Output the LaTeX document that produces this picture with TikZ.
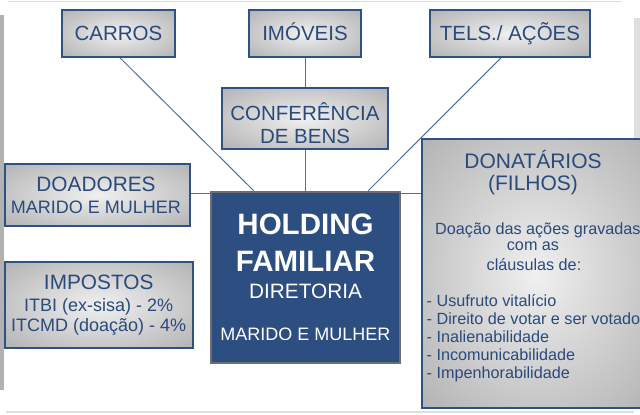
\documentclass[tikz,border=0pt]{standalone}
\usepackage{fontspec}
\setmainfont{Liberation Sans}
\usetikzlibrary{backgrounds,calc}
\definecolor{txtblue}{HTML}{2A4A7C}
\definecolor{edgeblue}{HTML}{2F5286}
\definecolor{lineblue}{HTML}{4F6F9E}
\definecolor{holdfill}{HTML}{2C4E80}
\definecolor{holdedge}{HTML}{6E6E6E}
\definecolor{boxin}{HTML}{F0F0F0}
\definecolor{boxout}{HTML}{9A9A9A}
\pgfdeclareradialshading{boxshade}{\pgfpoint{0bp}{0bp}}{color(0bp)=(boxin); color(50bp)=(boxout); color(100bp)=(boxout)}
\newcommand\fsz[1]{\fontsize{#1}{#1}\selectfont}
\tikzset{
  gbox/.style={draw=edgeblue, line width=1.6pt, shading=boxshade, inner sep=0pt},
  lbl/.style={text=txtblue, inner sep=0pt, anchor=base},
  wlbl/.style={text=white, inner sep=0pt, anchor=base},
  conn/.style={draw=lineblue, line width=1pt},
}
\begin{document}
\begin{tikzpicture}[x=1pt,y=-1pt]
\useasboundingbox (0,0) rectangle (640,415);
\clip (0,0) rectangle (640,415);
% frame
\fill[gray!60] (0,15) rectangle (4,390);
\fill[gray!25] (634,18) rectangle (640,139);
\draw[gray!25, line width=1.5pt] (8,1.5) -- (622,1.5);
\draw[gray!25, line width=1.5pt] (6,412) -- (634,412);

% boxes
\node[gbox, minimum width=113pt, minimum height=47pt] (carros) at (118.5,33.5) {};
\node[gbox, minimum width=112pt, minimum height=47pt] (imoveis) at (305,33.5) {};
\node[gbox, minimum width=160pt, minimum height=47pt] (tels) at (510,33.5) {};
\node[gbox, minimum width=166pt, minimum height=61pt] (conf) at (305,118.5) {};
\node[gbox, minimum width=185pt, minimum height=62pt] (doadores) at (97.5,195) {};
\node[gbox, minimum width=188pt, minimum height=86pt] (impostos) at (99,305) {};
\node[draw=holdedge, fill=holdfill, line width=2.6pt, inner sep=0pt, minimum width=189pt, minimum height=171pt] (holding) at (305.5,277.5) {};
\node[gbox, minimum width=230pt, minimum height=269pt] (donbox) at (537,273.5) {};

% texts
\node[lbl, font=\fsz{20.5}] (tcarros) at (118.5,40.7) {CARROS};
\node[lbl, font=\fsz{20.5}] (timoveis) at (305,40.7) {IMÓVEIS};
\node[lbl, font=\fsz{20.5}] (ttels) at (510,40.7) {TELS./ AÇÕES};
\node[lbl, font=\fsz{20.5}] (tconf1) at (305,120.5) {CONFERÊNCIA};
\node[lbl, font=\fsz{20.5}] (tconf2) at (305,143.5) {DE BENS};
\node[lbl, font=\fsz{20.8}] (tdoa1) at (96,191.7) {DOADORES};
\node[lbl, font=\fsz{18}] (tdoa2) at (96,213.3) {MARIDO E MULHER};
\node[lbl, font=\fsz{20.8}] (timp1) at (98.7,289.3) {IMPOSTOS};
\node[lbl, font=\fsz{18}] (timp2) at (98.7,311.7) {ITBI (ex-sisa) - 2\%};
\node[lbl, font=\fsz{18}] (timp3) at (98.7,331.7) {ITCMD (doação) - 4\%};
\node[wlbl, font=\bfseries\fsz{29.5}] (thold1) at (305.5,234.5) {HOLDING};
\node[wlbl, font=\bfseries\fsz{29.5}] (thold2) at (305.5,271) {FAMILIAR};
\node[wlbl, font=\fsz{20.8}] (thold3) at (305.5,298.3) {DIRETORIA};
\node[wlbl, font=\fsz{18}] (thold4) at (305.5,340) {MARIDO E MULHER};
\node[lbl, font=\fsz{21}] (tdon1) at (533,168.3) {DONATÁRIOS};
\node[lbl, font=\fsz{21}] (tdon2) at (533,190) {(FILHOS)};
\node[lbl, font=\fsz{16.2}, anchor=base west] (tdon3) at (435,234) {Doação das ações gravadas};
\node[lbl, font=\fsz{16.2}] (tdon4) at (533,250.5) {com as};
\node[lbl, font=\fsz{16.2}] (tdon5) at (534,270) {cláusulas de:};
\node[lbl, font=\fsz{16.2}, anchor=base west] (tl1) at (426.5,306) {- Usufruto vitalício};
\node[lbl, font=\fsz{16.2}, anchor=base west] (tl2) at (426.5,324) {- Direito de votar e ser votado};
\node[lbl, font=\fsz{16.2}, anchor=base west] (tl3) at (426.5,342) {- Inalienabilidade};
\node[lbl, font=\fsz{16.2}, anchor=base west] (tl4) at (426.5,360) {- Incomunicabilidade};
\node[lbl, font=\fsz{16.2}, anchor=base west] (tl5) at (426.5,378) {- Impenhorabilidade};

% connectors
\begin{scope}[on background layer]
\draw[conn] ([xshift=1.5pt]carros.south) -- ([xshift=44pt]holding.north west);
\draw[conn] (imoveis.south) -- (conf.north);
\draw[conn] (conf.south) -- (conf.south |- holding.north);
\draw[conn] ([xshift=-9pt]tels.south) -- ([xshift=-33pt]holding.north east);
\draw[conn] ([yshift=1.5pt]doadores.east) -- ([yshift=1.5pt]doadores.east -| donbox.west);
\end{scope}
\end{tikzpicture}
\end{document}
